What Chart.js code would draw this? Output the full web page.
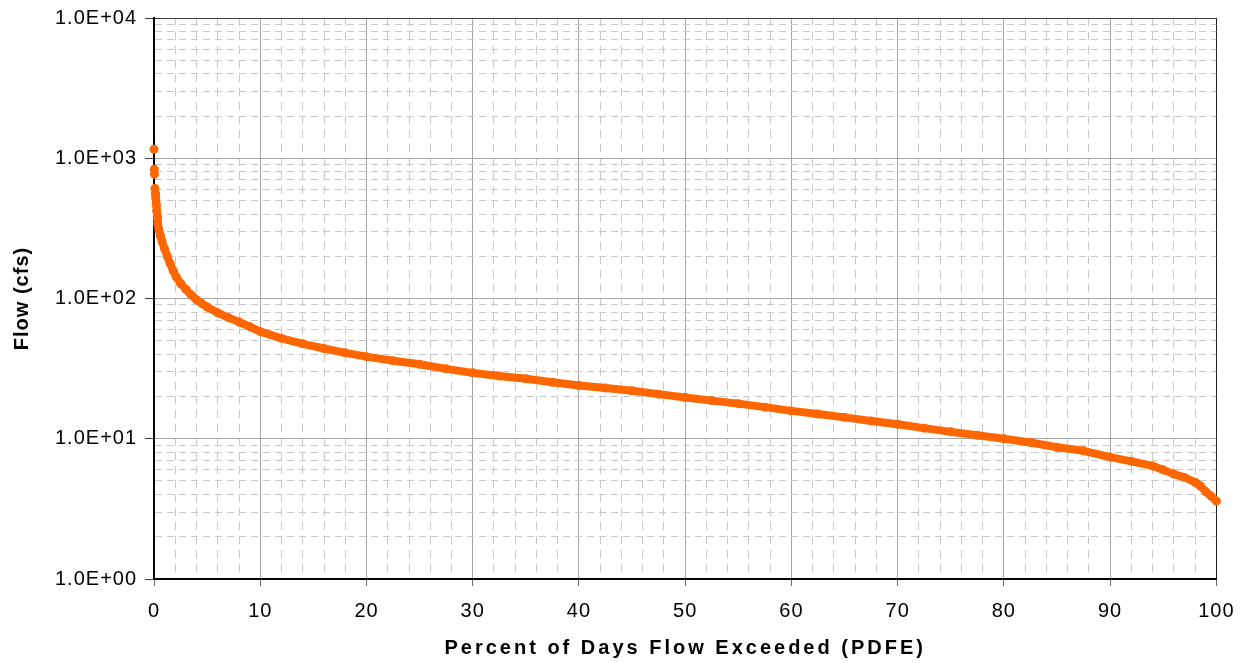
<!DOCTYPE html>
<html>
<head>
<meta charset="utf-8">
<script src="https://cdn.jsdelivr.net/npm/chart.js@4/dist/chart.umd.min.js"></script>
<style>
  html, body { margin: 0; padding: 0; background: #ffffff; }
  #wrap { width: 1246px; height: 663px; }
</style>
</head>
<body>
<div id="wrap"><canvas id="c" width="1246" height="663"></canvas></div>
<script>
// Percent of days flow exceeded (x) and flow in cfs (y)
const pdfe = [0, 0.02, 0.04, 0.08, 0.12, 0.16, 0.2, 0.25, 0.3, 0.35, 0.45, 0.6, 0.75, 1.0, 1.25, 1.5, 1.8, 2.1, 2.5, 3.0, 3.5, 4.0, 4.5, 5, 6, 7, 8, 9, 10, 12, 14, 16, 18, 20, 22.5, 25, 27.5, 30, 32.5, 35, 37.5, 40, 42.5, 45, 47.5, 50, 52.5, 55, 57.5, 60, 62.5, 65, 67.5, 70, 72.5, 75, 77.5, 80, 82.5, 85, 87.5, 90, 92, 94, 95, 96, 97, 98, 98.5, 99, 99.5, 100];
const flowCfs = [1160, 835, 770, 610, 560, 520, 470, 420, 380, 340, 310, 280, 255, 225, 200, 178, 158, 142, 128, 116, 106, 98, 92, 87, 79, 73, 68, 63, 58, 52, 47.5, 44, 41, 38.5, 36, 34, 31.5, 29.5, 28, 26.8, 25.3, 24, 23, 22, 20.8, 19.7, 18.7, 17.8, 16.8, 15.8, 15.0, 14.2, 13.4, 12.7, 11.9, 11.2, 10.6, 10.0, 9.4, 8.7, 8.2, 7.4, 6.9, 6.4, 6.0, 5.6, 5.3, 4.9, 4.6, 4.2, 3.9, 3.6];

// Axis tick values
const xTickValues = [];
for (let v = 0; v <= 100; v += 2) xTickValues.push(v);
const xLabelStep = 10;
const yDecades = [1, 10, 100, 1000, 10000];
const yTickValues = [];
yDecades.forEach((d, i) => {
  if (i < yDecades.length - 1) { for (let m = 1; m <= 9; m++) yTickValues.push(m * d); }
  else yTickValues.push(d);
});

const ORANGE = '#ff6600';
const isDecade = v => { const e = Math.round(Math.log10(v)); return Math.abs(v - Math.pow(10, e)) < 1e-9 * v; };
const isXMajor = v => Math.abs(v % xLabelStep) < 1e-9;

const spacingPlugin = {
  id: 'spacing',
  beforeDraw(chart) {
    chart.ctx.letterSpacing = '1px';
    [['x', '3px'], ['y', '1px']].forEach(([id, sp]) => {
      const s = chart.scales[id];
      if (s && !s._patchedTitle) {
        const orig = s.drawTitle;
        s.drawTitle = function (...a) {
          const c = this.ctx; const prev = c.letterSpacing;
          c.letterSpacing = sp; orig.apply(this, a); c.letterSpacing = prev;
        };
        s._patchedTitle = true;
      }
    });
  },
  afterDraw(chart) { chart.ctx.letterSpacing = '0px'; }
};

new Chart(document.getElementById('c'), {
  type: 'scatter',
  data: {
    datasets: [{
      label: 'Flow',
      data: pdfe.map((x, i) => ({ x: x, y: flowCfs[i] })),
      showLine: true,
      clip: false,
      borderColor: ORANGE,
      backgroundColor: ORANGE,
      borderWidth: 8,
      borderJoinStyle: 'round',
      borderCapStyle: 'round',
      pointRadius: 4.5,
      pointBorderWidth: 0,
      pointBackgroundColor: ORANGE,
      segment: {
        borderColor: ctx => (ctx.p0.parsed.y > 600 ? 'rgba(0,0,0,0)' : undefined)
      }
    }]
  },
  options: {
    responsive: false,
    animation: false,
    devicePixelRatio: 1,
    layout: { padding: { top: 4, right: 18, left: 10, bottom: 3 } },
    plugins: { legend: { display: false }, tooltip: { enabled: false } },
    scales: {
      x: {
        type: 'linear',
        min: 0, max: 100,
        afterBuildTicks: s => { s.ticks = xTickValues.map(v => ({ value: v, major: isXMajor(v) })); },
        ticks: {
          autoSkip: false, maxRotation: 0, padding: 13,
          color: '#000', font: { family: 'Liberation Sans, Arial, sans-serif', size: 20 },
          callback: v => (isXMajor(v) ? String(v) : '')
        },
        grid: {
          color: c => (c.tick && isXMajor(c.tick.value) ? (c.tick.value === 100 ? '#202020' : '#a6a6a6') : '#c8c8c8'),
          lineWidth: 1,
          tickLength: 7,
          tickColor: c => (c.tick && isXMajor(c.tick.value) ? '#707070' : 'rgba(0,0,0,0)')
        },
        border: { display: true, color: '#000', width: 2, dash: c => (c.tick && !isXMajor(c.tick.value) ? [8, 6] : []) },
        title: {
          display: true, text: 'Percent of Days Flow Exceeded (PDFE)', color: '#000',
          font: { family: 'Liberation Sans, Arial, sans-serif', size: 20, weight: 'bold' },
          padding: { top: 0, bottom: 0 }
        }
      },
      y: {
        type: 'logarithmic',
        min: 1, max: 10000,
        afterBuildTicks: s => { s.ticks = yTickValues.map(v => ({ value: v, major: isDecade(v) })); },
        ticks: {
          autoSkip: false, padding: 8,
          color: '#000', font: { family: 'Liberation Sans, Arial, sans-serif', size: 20, lineHeight: 1.0 },
          callback: v => (isDecade(v) ? '1.0E+0' + Math.round(Math.log10(v)) : '')
        },
        grid: {
          color: c => (c.tick && isDecade(c.tick.value) ? (c.tick.value === 10000 ? '#404040' : '#a6a6a6') : '#c8c8c8'),
          lineWidth: 1,
          tickLength: 9,
          tickColor: c => (c.tick && isDecade(c.tick.value) ? '#404040' : 'rgba(0,0,0,0)')
        },
        border: { display: true, color: '#000', width: 2, dash: c => (c.tick && !isDecade(c.tick.value) ? [7, 5] : []) },
        title: {
          display: true, text: 'Flow (cfs)', color: '#000',
          font: { family: 'Liberation Sans, Arial, sans-serif', size: 20, weight: 'bold' },
          padding: { top: 0, bottom: 20 }
        }
      }
    }
  },
  plugins: [spacingPlugin]
});
</script>
</body>
</html>
